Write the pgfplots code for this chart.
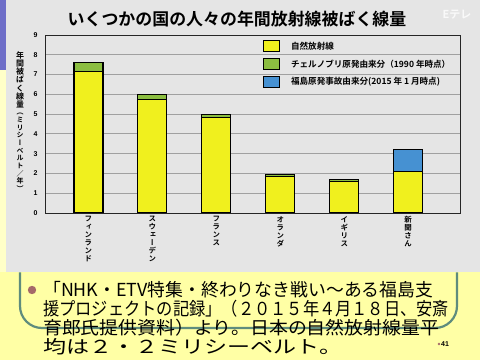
\documentclass[border=0pt]{standalone}
\usepackage{pgfplots}
\pgfplotsset{compat=1.18}
\usepackage{graphicx}
\usepackage{fontspec}
\setmainfont{Liberation Sans}
\newfontfamily\jp{Noto Sans CJK JP}
\newfontfamily\jpb{Noto Sans CJK JP Bold}
\newfontfamily\jpvb{Noto Sans CJK JP Bold}[RawFeature=+vert]
\definecolor{bgyel}{RGB}{255,255,165}
\definecolor{stripyel}{RGB}{255,255,200}
\definecolor{scr}{RGB}{229,229,229}
\definecolor{gridc}{RGB}{160,160,160}
\definecolor{natY}{RGB}{240,240,30}
\definecolor{chG}{RGB}{140,190,65}
\definecolor{fkB}{RGB}{70,145,210}
\definecolor{boxline}{RGB}{95,140,125}
\definecolor{purp}{RGB}{110,110,200}
\definecolor{bul}{RGB}{165,105,105}
\begin{document}
\begin{tikzpicture}
\path[use as bounding box] (0bp,0bp) rectangle (480bp,360bp);
\fill[bgyel] (0bp,0bp) rectangle (480bp,360bp);
\draw[boxline, line width=2.2bp, rounded corners=22bp] (20bp,32bp) rectangle (457bp,200bp);
\fill[scr] (6bp,88bp) rectangle (480bp,360bp);
\fill[purp] (0bp,290bp) rectangle (6bp,360bp);
\fill[stripyel] (0bp,88bp) rectangle (6bp,290bp);
\node[white, opacity=0.8, font=\jpb\fontsize{11}{12}\selectfont] at (457bp,345bp) {Eテレ};
\node[font=\jpb\fontsize{17}{18}\selectfont, inner sep=0] at (237bp,341bp) {いくつかの国の人々の年間放射線被ばく線量};
\begin{axis}[
  at={(45bp,147bp)}, anchor=south west, scale only axis,
  width=415bp, height=178bp,
  ybar stacked, bar width=29bp,
  xmin=-0.68, xmax=5.81, ymin=0, ymax=9,
  ytick={0,...,9}, xtick={0,...,5},
  xticklabels={{フ\\ィ\\ン\\ラ\\ン\\ド},{ス\\ウ\\ェ\\ー\\デ\\ン},{フ\\ラ\\ン\\ス},{オ\\ラ\\ン\\ダ},{イ\\ギ\\リ\\ス},{新\\聞\\さ\\ん}},
  xticklabel style={align=center, anchor=north, font=\jpvb\fontsize{7.5}{8}\selectfont},
  yticklabel style={font=\bfseries\fontsize{7}{8}\selectfont, xshift=-4bp},
  /pgf/number format/assume math mode=true,
  major tick length=0,
  ymajorgrids, grid style={gridc, line width=0.8bp},
  axis line style={black!85, line width=0.9bp},
  axis background/.style={fill=scr},
  legend style={at={(axis description cs:0.518,0.985)}, anchor=north west, draw=none, fill=none,
    font=\jpb\fontsize{8.6}{9.5}\selectfont, row sep=5bp,
    /tikz/every odd column/.append style={column sep=9bp}},
  legend cell align=left,
  legend image code/.code={\draw[#1, line width=0.9bp] (0bp,-5.5bp) rectangle (16bp,5.5bp);},
]
\addplot[fill=natY, draw=black, line width=1.1bp] coordinates {(0,7.15) (1,5.75) (2,4.83) (3,1.83) (4,1.57) (5,2.1)};
\addplot[fill=chG, draw=black, line width=1.1bp] coordinates {(0,0.45) (1,0.25) (2,0.17) (3,0.12) (4,0.13) (5,0)};
\addplot[fill=fkB, draw=black, line width=1.1bp] coordinates {(0,0) (1,0) (2,0) (3,0) (4,0) (5,1.12)};
\legend{自然放射線, チェルノブリ原発由来分（1990 年時点）, 福島原発事故由来分(2015 年 1 月時点)}
\end{axis}
\node[anchor=north, align=center, inner sep=0, font=\jpvb\fontsize{8}{8.3}\selectfont] at (20bp,309bp) {年\\間\\被\\ば\\く\\線\\量};
\node[anchor=north, align=center, inner sep=0, font=\jpvb\fontsize{7}{7.7}\selectfont] at (20bp,247bp) {（\\ミ\\リ\\シ\\ー\\ベ\\ル\\ト\\／\\年\\）};
\fill[bgyel] (6bp,0bp) rectangle (480bp,87.5bp);
\draw[boxline, line width=2.2bp, rounded corners=22bp] (20bp,87.5bp) -- (20bp,32bp) -- (457bp,32bp) -- (457bp,87.5bp);
\fill[bul] (32bp,70bp) circle (4.2bp);
\begin{scope}[every node/.style={anchor=base west, inner sep=0, font=\jp\fontsize{18}{18}\selectfont}]
\node at (43bp,63.5bp) {\resizebox{390bp}{\height}{「NHK・ETV特集・終わりなき戦い〜ある福島支}};
\node at (43bp,44.7bp) {\resizebox{406bp}{\height}{援プロジェクトの記録」（２０１５年４月１８日、安斎}};
\node at (43bp,25.8bp) {\resizebox{396bp}{\height}{育郎氏提供資料）より。日本の自然放射線量平}};
\node at (43bp,7bp) {\resizebox{299bp}{\height}{均は２・２ミリシーベルト。}};
\end{scope}
\fill[bul] (439bp,16bp) circle (1.3bp);
\node[anchor=west, inner sep=0, font=\bfseries\fontsize{7}{8}\selectfont] at (441bp,16bp) {41};
\end{tikzpicture}
\end{document}
